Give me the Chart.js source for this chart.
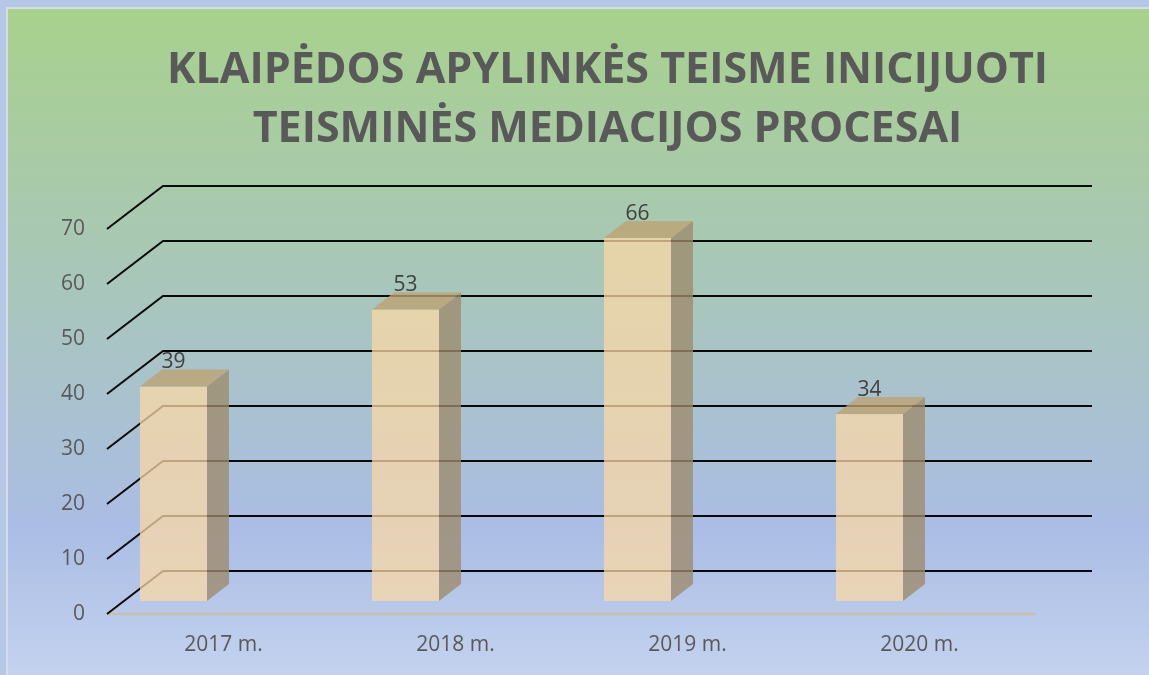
<!DOCTYPE html>
<html><head><meta charset="utf-8">
<script src="https://cdn.jsdelivr.net/npm/chart.js@4"></script>
<style>html,body{margin:0;padding:0;background:#b4c7e7;overflow:hidden}canvas{display:block}</style>
</head><body><canvas id="c" width="1149" height="675"></canvas>
<script>
const categories = ["2017 m.", "2018 m.", "2019 m.", "2020 m."];
const values = [39, 53, 66, 34];
const yTicks = [0, 10, 20, 30, 40, 50, 60, 70];
const titleLines = ["KLAIPĖDOS APYLINKĖS TEISME INICIJUOTI", "TEISMINĖS MEDIACIJOS PROCESAI"];

const FONT = "'Open Sans', 'DejaVu Sans', sans-serif";

const scene = {
  id: 'scene',
  beforeDraw(chart) {
    const ctx = chart.ctx, W = chart.width, H = chart.height;
    ctx.save();
    ctx.fillStyle = '#b4c7e7';
    ctx.fillRect(0, 0, W, H);
    ctx.fillStyle = '#d6dbe6';
    ctx.fillRect(6, 7, W, H);
    const g = ctx.createLinearGradient(0, 9, 0, H);
    g.addColorStop(0, '#a8d18d');
    g.addColorStop(0.5, '#a9c4c4');
    g.addColorStop(0.78, '#abbde5');
    g.addColorStop(1, '#c3d2ee');
    ctx.fillStyle = g;
    ctx.fillRect(8, 9, W, H);
    ctx.restore();
  },
  beforeDatasetsDraw(chart) {
    const ctx = chart.ctx, ca = chart.chartArea, ys = chart.scales.y;
    const fx = ca.left + 49.5;        // front-left corner of floor
    const ddx = 56, ddy = -43;        // floor depth
    const backRight = ca.right + 106.5;
    ctx.save();
    // floor front edge
    ctx.strokeStyle = '#c9bfab';
    ctx.lineWidth = 2.5;
    ctx.beginPath();
    const f0 = ys.getPixelForValue(0) + 13;
    ctx.moveTo(fx, f0);
    ctx.lineTo(ca.right + 50.5, f0);
    ctx.stroke();
    // grid lines
    ctx.strokeStyle = '#0a0a0a';
    ctx.lineWidth = 2;
    ctx.lineCap = 'butt';
    yTicks.forEach(v => {
      const yf = ys.getPixelForValue(v) + 13;
      ctx.beginPath();
      ctx.moveTo(fx, yf);
      ctx.lineTo(fx + ddx, yf + ddy);
      ctx.lineTo(backRight, yf + ddy);
      ctx.stroke();
    });
    // y labels
    ctx.fillStyle = '#595959';
    ctx.font = '21px ' + FONT;
    ctx.textAlign = 'right';
    ctx.textBaseline = 'middle';
    yTicks.forEach(v => {
      const yf = ys.getPixelForValue(v) + 13;
      ctx.fillText(String(v), ca.left + 27.5, yf);
    });
    ctx.restore();
  },
  afterDatasetsDraw(chart) {
    const ctx = chart.ctx;
    const meta = chart.getDatasetMeta(0);
    const dx = 22, dy = -17;
    ctx.save();
    meta.data.forEach((el, i) => {
      const p = el.getProps(['x', 'y', 'base', 'width'], true);
      const L = p.x - p.width / 2, R = p.x + p.width / 2, T = p.y, B = p.base;
      // side face
      ctx.fillStyle = 'rgba(158,139,108,0.78)';
      ctx.beginPath();
      ctx.moveTo(R, T); ctx.lineTo(R + dx, T + dy); ctx.lineTo(R + dx, B + dy); ctx.lineTo(R, B);
      ctx.closePath(); ctx.fill();
      // top face
      ctx.fillStyle = 'rgba(190,162,113,0.78)';
      ctx.beginPath();
      ctx.moveTo(L, T); ctx.lineTo(R, T); ctx.lineTo(R + dx, T + dy); ctx.lineTo(L + dx, T + dy);
      ctx.closePath(); ctx.fill();
      // data label
      ctx.fillStyle = '#404040';
      ctx.font = '21px ' + FONT;
      ctx.textAlign = 'center';
      ctx.textBaseline = 'middle';
      ctx.fillText(String(values[i]), p.x, T - 24);
    });
    ctx.restore();
  }
};

new Chart(document.getElementById('c'), {
  type: 'bar',
  data: {
    labels: categories,
    datasets: [{
      data: values,
      backgroundColor: 'rgba(249,216,165,0.75)',
      borderWidth: 0,
      categoryPercentage: 1,
      barPercentage: 0.289
    }]
  },
  options: {
    responsive: false,
    animation: false,
    devicePixelRatio: 1,
    events: [],
    layout: { padding: { left: 0, right: -66, top: 0, bottom: 0 } },
    plugins: {
      legend: { display: false },
      tooltip: { enabled: false },
      title: {
        display: true,
        text: titleLines,
        color: '#595959',
        font: { family: FONT, weight: 'bold', size: 43, lineHeight: 1.372 },
        padding: { top: 41.5, bottom: 56.5 }
      }
    },
    scales: {
      x: {
        type: 'category',
        offset: true,
        grid: { display: false, drawTicks: false },
        border: { display: false },
        ticks: {
          color: '#595959',
          font: { family: FONT, size: 21 },
          padding: 31,
          labelOffset: 50,
          maxRotation: 0,
          autoSkip: false
        },
        afterFit: s => { s.height = 74; }
      },
      y: {
        min: 0, max: 70,
        ticks: { display: false, stepSize: 10 },
        grid: { display: false, drawTicks: false },
        border: { display: false },
        afterFit: s => { s.width = 57.5; }
      },
      y2: {
        position: 'right',
        display: true,
        ticks: { display: false },
        grid: { display: false, drawTicks: false },
        border: { display: false },
        afterFit: s => { s.width = 229.5; }
      }
    }
  },
  plugins: [scene]
});
</script>
</body></html>
